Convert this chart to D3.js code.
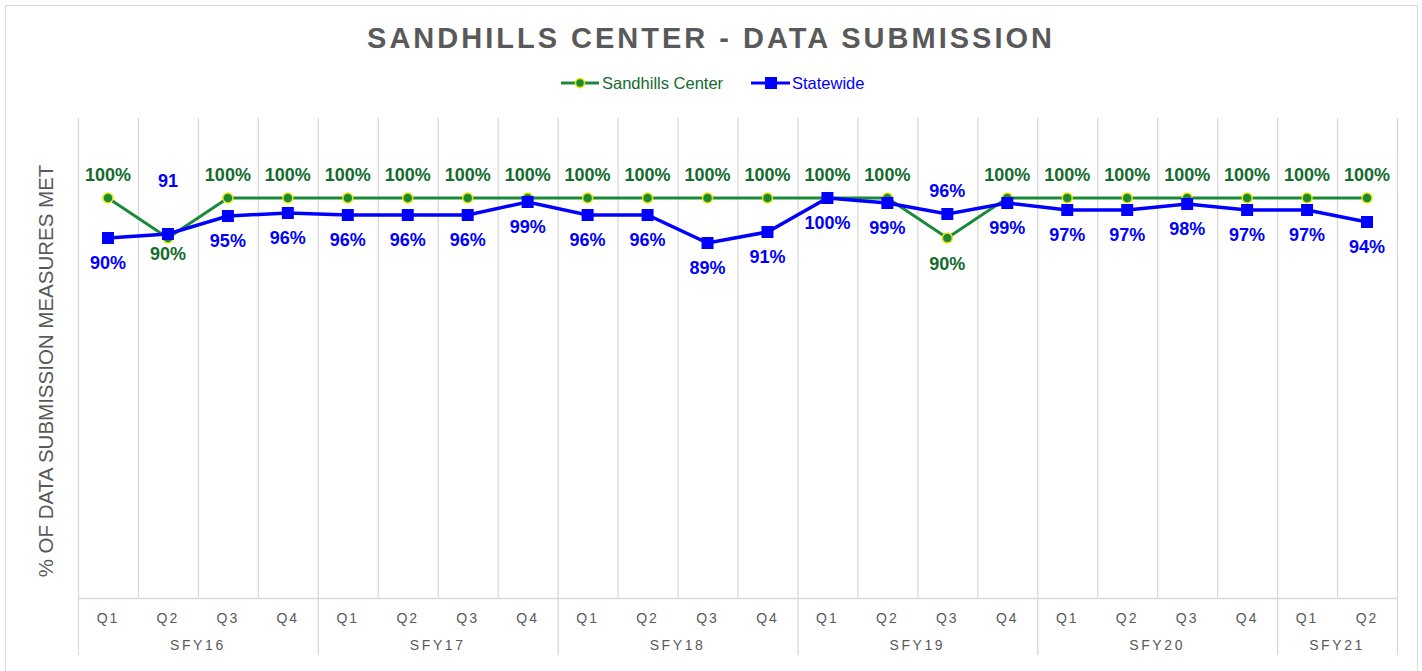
<!DOCTYPE html>
<html>
<head>
<meta charset="utf-8">
<script src="https://cdn.jsdelivr.net/npm/d3@7"></script>
<style>
  body { margin: 0; background: #fff; font-family: "Liberation Sans", Arial, sans-serif; }
</style>
</head>
<body>
<script>

var Width = 1422;     // of SVG
var Height = 671;     // of SVG

// plot area
var Left = 78, Right = 1397, Top = 118, Bottom = 598;

var Years = ["SFY16", "SFY17", "SFY18", "SFY19", "SFY20", "SFY21"];
var YearQuarters = [4, 4, 4, 4, 4, 2];
var Quarters = ["Q1","Q2","Q3","Q4", "Q1","Q2","Q3","Q4", "Q1","Q2","Q3","Q4",
                "Q1","Q2","Q3","Q4", "Q1","Q2","Q3","Q4", "Q1","Q2"];

var Sandhills = [100, 90, 100, 100, 100, 100, 100, 100, 100, 100, 100, 100,
                 100, 100, 90, 100, 100, 100, 100, 100, 100, 100];
var SandhillsLabels = ["100%","90%","100%","100%","100%","100%","100%","100%","100%","100%","100%","100%",
                       "100%","100%","90%","100%","100%","100%","100%","100%","100%","100%"];

var Statewide = [90, 91, 95.5, 96.25, 95.75, 95.75, 95.75, 99, 95.75, 95.75, 88.75, 91.5,
                 100, 98.75, 96, 98.75, 97, 97, 98.5, 97, 97, 94];
var StatewideLabels = ["90%","91","95%","96%","96%","96%","96%","99%","96%","96%","89%","91%",
                       "100%","99%","96%","99%","97%","97%","98%","97%","97%","94%"];

var GreenLine = "#1a8a3a", GreenText = "#136b2c", Blue = "#0000ff", Gray = "#595959", Grid = "#d9d9d9";

function main () {
  var svg = d3.select("body").append("svg")
    .attr("width", Width)
    .attr("height", Height);

  // outer frame
  svg.append("rect")
    .attr("x", 5.5).attr("y", 5.5)
    .attr("width", 1412).attr("height", 680)
    .attr("fill", "#fff")
    .attr("stroke", Grid);

  var xScale = d3.scaleBand()
    .domain(d3.range(Quarters.length))
    .range([Left, Right]);
  var yScale = d3.scaleLinear()
    .domain([0, 120])
    .range([Bottom, Top]);
  var cx = function(i) { return xScale(i) + xScale.bandwidth() / 2; };

  makeGrid(svg, xScale);
  makeAxis(svg, xScale);

  // titles
  svg.append("text")
    .attr("x", 711).attr("y", 48)
    .attr("text-anchor", "middle")
    .attr("fill", Gray)
    .style("font-size", "29px").style("font-weight", "bold")
    .style("letter-spacing", "3px")
    .text("SANDHILLS CENTER - DATA SUBMISSION");

  svg.append("text")
    .attr("transform", "translate(53," + 371 + ") rotate(-90)")
    .attr("text-anchor", "middle")
    .attr("fill", Gray)
    .style("font-size", "20.5px")
    .text("% OF DATA SUBMISSION MEASURES MET");

  makeLegend(svg);

  // lines
  var line = function(vals) {
    return d3.line()
      .x(function(d, i) { return cx(i); })
      .y(function(d) { return yScale(d); })(vals);
  };

  svg.append("path")
    .attr("d", line(Sandhills))
    .attr("fill", "none").attr("stroke", GreenLine).attr("stroke-width", 3);

  svg.append("path")
    .attr("d", line(Statewide))
    .attr("fill", "none").attr("stroke", Blue).attr("stroke-width", 3.5);

  svg.selectAll("circle.sand")
    .data(Sandhills).enter().append("circle")
    .attr("class", "sand")
    .attr("cx", function(d, i) { return cx(i); })
    .attr("cy", function(d) { return yScale(d); })
    .attr("r", 5)
    .attr("fill", GreenLine).attr("stroke", "#e8e800").attr("stroke-width", 1.5);

  svg.selectAll("rect.state")
    .data(Statewide).enter().append("rect")
    .attr("class", "state")
    .attr("x", function(d, i) { return cx(i) - 6; })
    .attr("y", function(d) { return yScale(d) - 6; })
    .attr("width", 12).attr("height", 12)
    .attr("fill", Blue);

  // data labels: green above except where dipped, blue below except a couple
  var sandDy = Sandhills.map(function(d, i) {
    if (d < 100) return i === 1 ? 22 : 32;
    return -17;
  });
  var stateDy = Statewide.map(function(d, i) {
    if (i === 1) return -47;
    if (i === 14) return -17;
    return 31;
  });

  svg.selectAll("text.sandlab")
    .data(Sandhills).enter().append("text")
    .attr("class", "sandlab")
    .attr("x", function(d, i) { return cx(i); })
    .attr("y", function(d, i) { return yScale(d) + sandDy[i]; })
    .attr("text-anchor", "middle")
    .attr("fill", GreenText)
    .style("font-size", "18px").style("font-weight", "bold")
    .text(function(d, i) { return SandhillsLabels[i]; });

  svg.selectAll("text.statelab")
    .data(Statewide).enter().append("text")
    .attr("class", "statelab")
    .attr("x", function(d, i) { return cx(i); })
    .attr("y", function(d, i) { return yScale(d) + stateDy[i]; })
    .attr("text-anchor", "middle")
    .attr("fill", Blue)
    .style("font-size", "18px").style("font-weight", "bold")
    .text(function(d, i) { return StatewideLabels[i]; });
}

function makeGrid (svg, xScale) {
  var edges = d3.range(Quarters.length + 1).map(function(i) {
    return i < Quarters.length ? xScale(i) : Right;
  });
  svg.selectAll("line.grid")
    .data(edges).enter().append("line")
    .attr("class", "grid")
    .attr("x1", function(d) { return d + 0.5; })
    .attr("x2", function(d) { return d + 0.5; })
    .attr("y1", Top).attr("y2", Bottom)
    .attr("stroke", Grid).attr("stroke-width", 1.3);
}

function makeAxis (svg, xScale) {
  var g = svg.append("g");
  g.append("line")
    .attr("x1", Left).attr("x2", Right)
    .attr("y1", Bottom + 0.5).attr("y2", Bottom + 0.5)
    .attr("stroke", Grid).attr("stroke-width", 1.3);

  // quarter labels
  g.selectAll("text.q")
    .data(Quarters).enter().append("text")
    .attr("class", "q")
    .attr("x", function(d, i) { return xScale(i) + xScale.bandwidth() / 2; })
    .attr("y", 623)
    .attr("text-anchor", "middle")
    .attr("fill", Gray)
    .style("font-size", "14px").style("letter-spacing", "2px")
    .text(function(d) { return d; });

  // year groups
  var starts = [];
  var s = 0;
  YearQuarters.forEach(function(n) { starts.push(s); s += n; });
  var bounds = starts.map(function(st) { return xScale(st); }).concat([Right]);

  g.selectAll("line.sep")
    .data(bounds).enter().append("line")
    .attr("class", "sep")
    .attr("x1", function(d) { return d + 0.5; })
    .attr("x2", function(d) { return d + 0.5; })
    .attr("y1", Bottom).attr("y2", 655)
    .attr("stroke", Grid).attr("stroke-width", 1.3);

  g.selectAll("text.yr")
    .data(Years).enter().append("text")
    .attr("class", "yr")
    .attr("x", function(d, i) { return (bounds[i] + bounds[i + 1]) / 2; })
    .attr("y", 650)
    .attr("text-anchor", "middle")
    .attr("fill", Gray)
    .style("font-size", "14px").style("letter-spacing", "2.6px")
    .text(function(d) { return d; });
}

function makeLegend (svg) {
  var y = 83;
  var g = svg.append("g");
  g.append("line").attr("x1", 561).attr("x2", 599).attr("y1", y).attr("y2", y)
    .attr("stroke", GreenLine).attr("stroke-width", 3);
  g.append("circle").attr("cx", 580).attr("cy", y).attr("r", 4.5)
    .attr("fill", GreenLine).attr("stroke", "#e8e800").attr("stroke-width", 1.5);
  g.append("text").attr("x", 602).attr("y", y + 6)
    .attr("fill", GreenText).style("font-size", "16.5px")
    .text("Sandhills Center");

  g.append("line").attr("x1", 751).attr("x2", 790).attr("y1", y).attr("y2", y)
    .attr("stroke", Blue).attr("stroke-width", 3);
  g.append("rect").attr("x", 765).attr("y", y - 6).attr("width", 12).attr("height", 12)
    .attr("fill", Blue);
  g.append("text").attr("x", 792).attr("y", y + 6)
    .attr("fill", Blue).style("font-size", "16.5px")
    .text("Statewide");
}

main();
</script>
</body>
</html>
